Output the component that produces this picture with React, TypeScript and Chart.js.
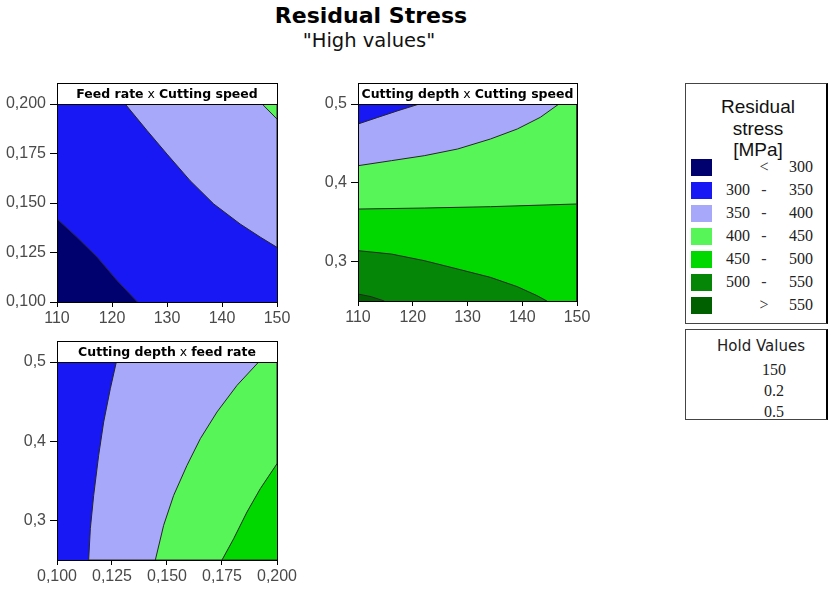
import React, { useEffect, useRef } from 'react';
import { Chart, registerables } from 'chart.js';

Chart.register(...registerables);

// ---------- legend / levels ----------
const levelColors = ['#00006e', '#1818f5', '#a8a8fa', '#58f558', '#00d800', '#068606', '#006000'];
const legendLow = ['', '300', '350', '400', '450', '500', ''];
const legendSep = ['<', '-', '-', '-', '-', '-', '>'];
const legendHigh = ['300', '350', '400', '450', '500', '550', '550'];
const legendTitle = ['Residual', 'stress', '[MPa]'];
const holdTitle = 'Hold Values';
const holdValues = ['150', '0.2', '0.5'];

// ---------- panel 1: Feed rate x Cutting speed ----------
const p1Title = 'Feed rate x Cutting speed';
const p1XRange = [110, 150];
const p1YRange = [0.1, 0.2];
const p1XTicks = [110, 120, 130, 140, 150];
const p1XLabels = ['110', '120', '130', '140', '150'];
const p1YTicks = [0.1, 0.125, 0.15, 0.175, 0.2];
const p1YLabels = ['0,100', '0,125', '0,150', '0,175', '0,200'];
const p1Edge300 = [[110, 0.1419], [113.6, 0.1327], [117.3, 0.1226], [120.9, 0.1108], [124.6, 0.1]];
const p1Edge350 = [[122.4, 0.2], [126.4, 0.1865], [130, 0.1747], [134.2, 0.1613], [138.5, 0.1495], [143.3, 0.1394], [147, 0.1327], [150, 0.1276]];
const p1Edge400 = [[147.3, 0.2], [150, 0.1924]];

// ---------- panel 2: Cutting depth x Cutting speed ----------
const p2Title = 'Cutting depth x Cutting speed';
const p2XRange = [110, 150];
const p2YRange = [0.25, 0.5];
const p2XTicks = [110, 120, 130, 140, 150];
const p2XLabels = ['110', '120', '130', '140', '150'];
const p2YTicks = [0.3, 0.4, 0.5];
const p2YLabels = ['0,3', '0,4', '0,5'];
const p2Edge350 = [[110, 0.4746], [113.6, 0.483], [117.3, 0.4915], [121.2, 0.5]];
const p2Edge400 = [[110, 0.4217], [116.1, 0.4281], [122.1, 0.4344], [128.2, 0.4429], [134.2, 0.4556], [139.1, 0.4683], [143.3, 0.4831], [146.7, 0.5]];
const p2Edge450 = [[110, 0.3667], [122.1, 0.368], [134.2, 0.3697], [150, 0.3731]];
const p2Edge500 = [[110, 0.3139], [116.1, 0.3096], [122.1, 0.3012], [128.2, 0.2906], [134.2, 0.28], [139.1, 0.2682], [142.7, 0.2568], [144.5, 0.25]];
const p2Edge550 = [[110, 0.2589], [112.4, 0.2555], [114.8, 0.25]];

// ---------- panel 3: Cutting depth x feed rate ----------
const p3Title = 'Cutting depth x feed rate';
const p3XRange = [0.1, 0.2];
const p3YRange = [0.25, 0.5];
const p3XTicks = [0.1, 0.125, 0.15, 0.175, 0.2];
const p3XLabels = ['0,100', '0,125', '0,150', '0,175', '0,200'];
const p3YTicks = [0.3, 0.4, 0.5];
const p3YLabels = ['0,3', '0,4', '0,5'];
const p3Edge350 = [[0.12697, 0.5], [0.12424, 0.4663], [0.12121, 0.4242], [0.11894, 0.3822], [0.11667, 0.3316], [0.11515, 0.2896], [0.11439, 0.25]];
const p3Edge400 = [[0.19167, 0.5], [0.18182, 0.4705], [0.17273, 0.4369], [0.16515, 0.4032], [0.15909, 0.3695], [0.15303, 0.3316], [0.14848, 0.2938], [0.1447, 0.25]];
const p3Edge450 = [[0.2, 0.3716], [0.19242, 0.3401], [0.18636, 0.3106], [0.1803, 0.2769], [0.175, 0.25]];

type Pt = number[];
type Poly = { pts: Pt[]; color: string; order: number; line: boolean };

function rect(xr: number[], yr: number[]): Pt[] {
  return [[xr[0], yr[0]], [xr[0], yr[1]], [xr[1], yr[1]], [xr[1], yr[0]]];
}

const p1Polys: Poly[] = [
  { pts: rect(p1XRange, p1YRange), color: levelColors[1], order: 10, line: false },
  { pts: [[p1XRange[0], p1YRange[0]], ...p1Edge300], color: levelColors[0], order: 9, line: true },
  { pts: [...p1Edge350, [p1XRange[1], p1YRange[1]]], color: levelColors[2], order: 9, line: true },
  { pts: [...p1Edge400, [p1XRange[1], p1YRange[1]]], color: levelColors[3], order: 8, line: true },
];

const p2Polys: Poly[] = [
  { pts: rect(p2XRange, p2YRange), color: levelColors[2], order: 10, line: false },
  { pts: [[p2XRange[0], p2YRange[0]], ...p2Edge400, [p2XRange[1], p2YRange[1]], [p2XRange[1], p2YRange[0]]], color: levelColors[3], order: 9, line: true },
  { pts: [[p2XRange[0], p2YRange[0]], ...p2Edge450, [p2XRange[1], p2YRange[0]]], color: levelColors[4], order: 8, line: true },
  { pts: [[p2XRange[0], p2YRange[0]], ...p2Edge500], color: levelColors[5], order: 7, line: true },
  { pts: [[p2XRange[0], p2YRange[0]], ...p2Edge550], color: levelColors[6], order: 6, line: true },
  { pts: [[p2XRange[0], p2YRange[1]], ...p2Edge350], color: levelColors[1], order: 5, line: true },
];

const p3Polys: Poly[] = [
  { pts: rect(p3XRange, p3YRange), color: levelColors[1], order: 10, line: false },
  { pts: [...p3Edge350, [p3XRange[1], p3YRange[0]], [p3XRange[1], p3YRange[1]]], color: levelColors[2], order: 9, line: true },
  { pts: [...p3Edge400, [p3XRange[1], p3YRange[0]], [p3XRange[1], p3YRange[1]]], color: levelColors[3], order: 8, line: true },
  { pts: [...p3Edge450, [p3XRange[1], p3YRange[0]]], color: levelColors[4], order: 7, line: true },
];

const STRIP_H = 21;

function makeStrip(text: string) {
  return {
    id: 'stripTitle',
    afterDraw(chart: any) {
      const { ctx, chartArea: a } = chart;
      const left = Math.round(a.left);
      const w = Math.round(a.right - a.left);
      const top = Math.round(a.top) - STRIP_H;
      ctx.save();
      ctx.fillStyle = '#fff';
      ctx.fillRect(left, top, w, STRIP_H);
      ctx.strokeStyle = '#000';
      ctx.lineWidth = 1;
      ctx.strokeRect(left + 0.5, top + 0.5, w, STRIP_H);
      ctx.strokeRect(left + 0.5, Math.round(a.top) + 0.5, w, Math.round(a.bottom - a.top));
      const parts = text.split(' x ');
      const bold = 'bold 12.5px "DejaVu Sans"';
      const reg = '12.5px "DejaVu Sans"';
      ctx.font = bold;
      const w0 = ctx.measureText(parts[0]).width;
      const w2 = ctx.measureText(parts[1]).width;
      ctx.font = reg;
      const w1 = ctx.measureText(' x ').width;
      let x = left + w / 2 - (w0 + w1 + w2) / 2;
      const y = top + STRIP_H / 2 + 1;
      ctx.fillStyle = '#000';
      ctx.textBaseline = 'middle';
      ctx.textAlign = 'left';
      ctx.font = bold;
      ctx.fillText(parts[0], x, y);
      x += w0;
      ctx.font = reg;
      ctx.fillText(' x ', x, y);
      x += w1;
      ctx.font = bold;
      ctx.fillText(parts[1], x, y);
      ctx.restore();
    },
  };
}

type PanelCfg = {
  title: string;
  polys: Poly[];
  xr: number[];
  yr: number[];
  xt: number[];
  xl: string[];
  yt: number[];
  yl: string[];
  padRight: number;
  xAxisH: number;
};

function makeChart(canvas: HTMLCanvasElement, c: PanelCfg) {
  const tickFont = { family: '"Liberation Sans", Arial, sans-serif', size: 16 };
  return new Chart(canvas, {
    type: 'scatter',
    data: {
      datasets: c.polys.map((p) => ({
        data: p.pts.map(([x, y]) => ({ x, y })),
        showLine: true,
        fill: 'shape',
        backgroundColor: p.color,
        borderColor: p.line ? '#262626' : 'rgba(0,0,0,0)',
        borderWidth: p.line ? 1 : 0,
        pointRadius: 0,
        pointHoverRadius: 0,
        tension: 0,
        order: p.order,
      })),
    },
    options: {
      responsive: false,
      animation: false,
      devicePixelRatio: 1,
      events: [],
      layout: { padding: { top: STRIP_H, right: c.padRight, left: 0, bottom: 0 } },
      plugins: {
        legend: { display: false },
        tooltip: { enabled: false },
        title: { display: false },
      },
      scales: {
        x: {
          type: 'linear',
          min: c.xr[0],
          max: c.xr[1],
          afterBuildTicks: (s: any) => {
            s.ticks = c.xt.map((v) => ({ value: v }));
          },
          afterFit: (s: any) => {
            s.height = c.xAxisH;
          },
          ticks: {
            callback: (_v: any, i: number) => c.xl[i],
            color: '#4a4a4a',
            font: tickFont,
            padding: 2,
            maxRotation: 0,
            autoSkip: false,
          },
          grid: { display: true, drawOnChartArea: false, drawTicks: true, tickLength: 5, color: '#000' },
          border: { display: false },
        },
        y: {
          type: 'linear',
          min: c.yr[0],
          max: c.yr[1],
          afterBuildTicks: (s: any) => {
            s.ticks = c.yt.map((v) => ({ value: v }));
          },
          afterFit: (s: any) => {
            s.width = 57;
          },
          ticks: {
            callback: (_v: any, i: number) => c.yl[i],
            color: '#4a4a4a',
            font: tickFont,
            padding: 4,
            autoSkip: false,
          },
          grid: { display: true, drawOnChartArea: false, drawTicks: true, tickLength: 7, color: '#000' },
          border: { display: false },
        },
      },
    } as any,
    plugins: [makeStrip(c.title)],
  } as any);
}

const abs = (o: React.CSSProperties): React.CSSProperties => ({ position: 'absolute', ...o });

export default function App() {
  const c1 = useRef<HTMLCanvasElement>(null);
  const c2 = useRef<HTMLCanvasElement>(null);
  const c3 = useRef<HTMLCanvasElement>(null);

  useEffect(() => {
    const charts = [
      makeChart(c1.current!, { title: p1Title, polys: p1Polys, xr: p1XRange, yr: p1YRange, xt: p1XTicks, xl: p1XLabels, yt: p1YTicks, yl: p1YLabels, padRight: 23, xAxisH: 30 }),
      makeChart(c2.current!, { title: p2Title, polys: p2Polys, xr: p2XRange, yr: p2YRange, xt: p2XTicks, xl: p2XLabels, yt: p2YTicks, yl: p2YLabels, padRight: 23, xAxisH: 30 }),
      makeChart(c3.current!, { title: p3Title, polys: p3Polys, xr: p3XRange, yr: p3YRange, xt: p3XTicks, xl: p3XLabels, yt: p3YTicks, yl: p3YLabels, padRight: 23, xAxisH: 28 }),
    ];
    return () => charts.forEach((ch) => ch.destroy());
  }, []);

  const serif = '"Liberation Serif", "Times New Roman", serif';
  const sans = '"Liberation Sans", Arial, sans-serif';
  const dejavu = '"DejaVu Sans", Verdana, sans-serif';

  return (
    <div style={{ position: 'absolute', left: 0, top: 0, width: 830, height: 589, overflow: 'hidden', background: '#fff', fontFamily: sans }}>
      <div style={abs({ left: 251, top: 5, width: 240, textAlign: 'center', font: `bold 22px/22px ${dejavu}`, color: '#000', whiteSpace: 'nowrap' })}>
        Residual Stress
      </div>
      <div style={abs({ left: 259, top: 31, width: 220, textAlign: 'center', font: `19.5px/19px ${dejavu}`, color: '#111', whiteSpace: 'nowrap' })}>
        "High values"
      </div>

      <canvas ref={c1} width={300} height={249} style={abs({ left: 0, top: 83 })} />
      <canvas ref={c2} width={299} height={248} style={abs({ left: 301, top: 83 })} />
      <canvas ref={c3} width={300} height={247} style={abs({ left: 0, top: 341 })} />

      {/* legend box */}
      <div style={abs({ left: 685, top: 83, width: 143, height: 241, boxSizing: 'border-box', border: '1px solid #444', borderRight: '2px solid #000' })} />
      {legendTitle.map((t, i) => (
        <div key={t} style={abs({ left: 686, top: 96 + i * 21.5, width: 144, textAlign: 'center', font: `19px/21px ${sans}`, color: '#111' })}>
          {t}
        </div>
      ))}
      {levelColors.map((col, i) => (
        <React.Fragment key={col}>
          <div style={abs({ left: 691, top: 159 + i * 23, width: 21, height: 17, background: col })} />
          <div style={abs({ left: 710, top: 159 + i * 23, width: 40, textAlign: 'right', font: `16px/16px ${serif}`, color: '#222' })}>{legendLow[i]}</div>
          <div style={abs({ left: 754, top: 159 + i * 23, width: 20, textAlign: 'center', font: `16px/16px ${serif}`, color: '#333' })}>{legendSep[i]}</div>
          <div style={abs({ left: 773, top: 159 + i * 23, width: 40, textAlign: 'right', font: `16px/16px ${serif}`, color: '#222' })}>{legendHigh[i]}</div>
        </React.Fragment>
      ))}

      {/* hold values box */}
      <div style={abs({ left: 685, top: 329, width: 143, height: 91, boxSizing: 'border-box', border: '1px solid #444', borderRight: '2px solid #000' })} />
      <div style={abs({ left: 686, top: 339, width: 150, textAlign: 'center', font: `15px/15px ${dejavu}`, color: '#222' })}>{holdTitle}</div>
      {holdValues.map((v, i) => (
        <div key={v} style={abs({ left: 754, top: 361.5 + i * 21.3, width: 40, textAlign: 'center', font: `16px/16px ${serif}`, color: '#222' })}>
          {v}
        </div>
      ))}
    </div>
  );
}
